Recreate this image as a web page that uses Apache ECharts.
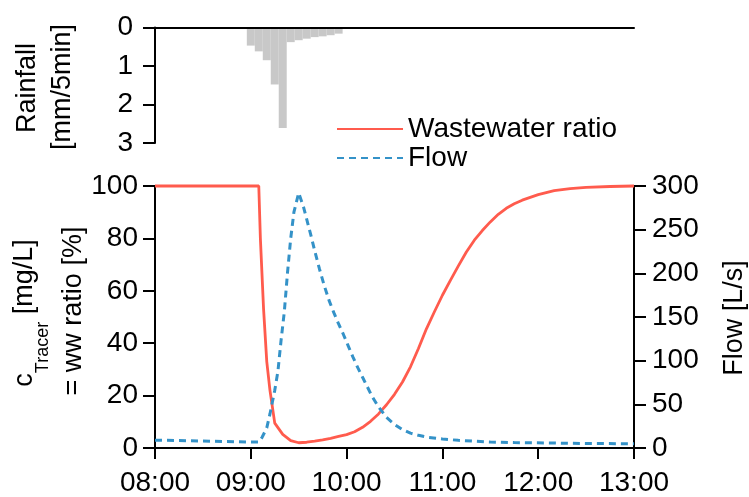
<!DOCTYPE html>
<html>
<head>
<meta charset="utf-8">
<script src="https://cdn.jsdelivr.net/npm/echarts@6/dist/echarts.min.js"></script>
<style>
html,body{margin:0;padding:0;background:#fff;}
#c{width:749px;height:497px;}
</style>
</head>
<body>
<div id="c"></div>
<script>
// ---- data (time in minutes after 08:00) ----
const timeLabels = ['08:00','09:00','10:00','11:00','12:00','13:00'];
const rainTicks = [0, 1, 2, 3];
const rainTimes = [60, 65, 70, 75, 80, 85, 90, 95, 100, 105, 110, 115];
const rainValues = [0.47, 0.62, 0.85, 1.48, 2.61, 0.38, 0.33, 0.29, 0.25, 0.23, 0.20, 0.16];

const wwTimes = [0, 65, 66, 68, 70, 72, 75, 80, 85, 90, 95, 100, 105, 110, 115, 120, 125, 130, 135, 140, 145, 150, 155, 160, 165, 170, 175, 180, 185, 190, 195, 200, 205, 210, 215, 220, 225, 230, 240, 250, 260, 270, 285, 300];
const wwValues = [100, 100, 80, 53, 33, 22, 9.5, 5.2, 2.8, 2.0, 2.2, 2.6, 3.1, 3.7, 4.4, 5.1, 6.2, 7.9, 10.2, 13, 16.5, 20.5, 25.2, 31, 38, 45.5, 52, 58.3, 64, 69.5, 74.8, 79.3, 83, 86.3, 89.2, 91.5, 93.2, 94.6, 96.7, 98.2, 99.0, 99.5, 99.8, 100];

const flowTimes = [0, 30, 60, 65, 67, 70, 72, 75, 77, 79, 81, 83, 85, 87, 90, 93, 95, 98, 100, 103, 106, 109, 112, 115, 118, 121, 124, 127, 130, 133, 136, 140, 145, 150, 155, 160, 165, 170, 180, 190, 200, 210, 225, 245, 270, 300];
const flowValues = [9, 8, 6.8, 6.8, 12, 23, 39, 66, 88, 124, 156, 201, 240, 270, 292, 276, 262, 241, 226, 205, 186, 169, 155, 142, 130, 117, 104, 92, 81, 70, 59, 47, 35, 27, 21, 17, 14.5, 12.5, 10.3, 8.8, 7.8, 6.8, 6.2, 5.8, 5.2, 4.8];

const RAIN_STEP = 5; // minutes per rainfall interval

// ---- styles ----
const FONT = '"Liberation Sans", Arial, sans-serif';
const FS = 28;   // horizontal text
const FSV = 27;  // rotated titles
const RED = '#FF5B4D';
const BLUE = '#3492C8';
const GRAY = '#C8C8C8';

const zip = (a, b) => a.map((v, i) => [v, b[i]]);

const chart = echarts.init(document.getElementById('c'), null, {renderer: 'canvas'});

const axisLine = {show: true, lineStyle: {color: '#000', width: 2}};
const axisTick = {show: true, inside: false, length: 12, lineStyle: {color: '#000', width: 2}};
const axisLabel = {color: '#000', fontSize: FS, fontFamily: FONT};

const option = {
  animation: false,
  backgroundColor: '#fff',
  grid: [
    {left: 155, width: 479, top: 27.5, height: 115.5},
    {left: 155, width: 479, top: 186, height: 266}
  ],
  xAxis: [
    {
      gridIndex: 0, type: 'value', min: 0, max: 300, interval: 60, position: 'top', z: 10,
      axisLine: axisLine, axisTick: {show: false}, axisLabel: {show: false}, splitLine: {show: false}
    },
    {
      gridIndex: 1, type: 'value', min: 0, max: 300, interval: 60, position: 'bottom',
      axisLine: axisLine, axisTick: Object.assign({}, axisTick, {length: 11}),
      axisLabel: Object.assign({}, axisLabel, {margin: 21, formatter: v => timeLabels[Math.round(v / 60)]}),
      splitLine: {show: false}
    }
  ],
  yAxis: [
    {
      gridIndex: 0, type: 'value', inverse: true, min: rainTicks[0], max: rainTicks[rainTicks.length - 1], interval: 1,
      axisLine: axisLine, axisTick: axisTick,
      axisLabel: Object.assign({}, axisLabel, {margin: 22}), splitLine: {show: false}
    },
    {
      gridIndex: 1, type: 'value', min: 0, max: 100, interval: 20, position: 'left',
      axisLine: axisLine, axisTick: axisTick,
      axisLabel: Object.assign({}, axisLabel, {margin: 17}), splitLine: {show: false}
    },
    {
      gridIndex: 1, type: 'value', min: 0, max: 300, interval: 50, position: 'right',
      axisLine: axisLine, axisTick: axisTick,
      axisLabel: Object.assign({}, axisLabel, {margin: 18}), splitLine: {show: false}
    }
  ],
  legend: {
    data: ['Wastewater ratio', 'Flow'],
    orient: 'vertical', left: 336, top: 115, padding: 0,
    itemWidth: 66, itemHeight: 14, itemGap: 1,
    itemStyle: {opacity: 0},
    textStyle: {color: '#000', fontSize: FS, fontFamily: FONT},
    selectedMode: false
  },
  series: [
    {
      type: 'custom', xAxisIndex: 0, yAxisIndex: 0,
      data: zip(rainTimes, rainValues),
      renderItem: function (params, api) {
        const t = api.value(0), v = api.value(1);
        const p0 = api.coord([t - RAIN_STEP / 2, 0]);
        const p1 = api.coord([t + RAIN_STEP / 2, v]);
        return {
          type: 'rect',
          shape: {x: p0[0], y: p0[1], width: p1[0] - p0[0], height: p1[1] - p0[1]},
          style: {fill: GRAY}
        };
      },
      z: 1
    },
    {
      name: 'Wastewater ratio', type: 'line', xAxisIndex: 1, yAxisIndex: 1,
      data: zip(wwTimes, wwValues), symbol: 'none', clip: false,
      lineStyle: {color: RED, width: 2.8}, itemStyle: {color: RED}
    },
    {
      name: 'Flow', type: 'line', xAxisIndex: 1, yAxisIndex: 2,
      data: zip(flowTimes, flowValues), symbol: 'none', clip: false,
      lineStyle: {color: BLUE, width: 3, type: [7, 5]}, itemStyle: {color: BLUE}
    }
  ],
  graphic: [
    {type: 'text', x: 28, y: 88, rotation: Math.PI / 2,
      style: {text: 'Rainfall', fill: '#000', font: FSV + 'px ' + FONT, align: 'center', verticalAlign: 'middle'}},
    {type: 'text', x: 63, y: 87, rotation: Math.PI / 2,
      style: {text: '[mm/5min]', fill: '#000', font: FSV + 'px ' + FONT, align: 'center', verticalAlign: 'middle'}},
    {type: 'text', x: 25, y: 313, rotation: Math.PI / 2,
      style: {
        text: '{m|c}{s|Tracer}{m| [mg/L]}', fill: '#000', align: 'center', verticalAlign: 'middle',
        rich: {
          m: {fontSize: FSV, fontFamily: FONT, lineHeight: 54, color: '#000'},
          s: {fontSize: 18, fontFamily: FONT, lineHeight: 18, verticalAlign: 'bottom', color: '#000'}
        }
      }},
    {type: 'text', x: 74, y: 311, rotation: Math.PI / 2,
      style: {text: '= ww ratio [%]', fill: '#000', font: FSV + 'px ' + FONT, align: 'center', verticalAlign: 'middle'}},
    {type: 'text', x: 735, y: 318, rotation: Math.PI / 2,
      style: {text: 'Flow [L/s]', fill: '#000', font: FSV + 'px ' + FONT, align: 'center', verticalAlign: 'middle'}}
  ]
};
chart.setOption(option);
</script>
</body>
</html>
